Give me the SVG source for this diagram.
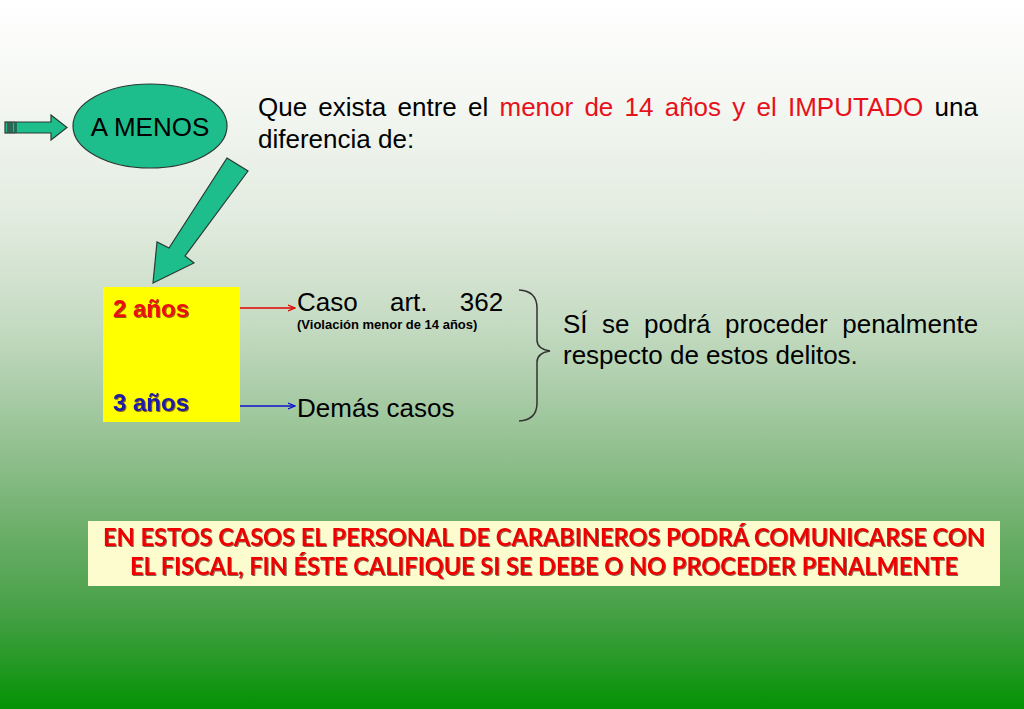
<svg xmlns="http://www.w3.org/2000/svg" width="1024" height="709" viewBox="0 0 1024 709">
<defs>
<linearGradient id="bg" x1="0" y1="0" x2="0" y2="1">
<stop offset="0" stop-color="#ffffff"/>
<stop offset="0.15" stop-color="#f3f6f1"/>
<stop offset="0.3" stop-color="#e3ece0"/>
<stop offset="0.45" stop-color="#c7dcc4"/>
<stop offset="0.55" stop-color="#abcda9"/>
<stop offset="0.65" stop-color="#8dbe8a"/>
<stop offset="0.75" stop-color="#6bae69"/>
<stop offset="0.85" stop-color="#4ba24b"/>
<stop offset="0.92" stop-color="#2c9a2c"/>
<stop offset="1" stop-color="#039303"/>
</linearGradient>
<filter id="sh" x="-5%" y="-30%" width="110%" height="160%">
<feDropShadow dx="1" dy="1" stdDeviation="0.5" flood-color="#3a0000" flood-opacity="0.6"/>
</filter>
<marker id="mr" viewBox="0 0 8 8" refX="7" refY="4" markerWidth="8" markerHeight="8" markerUnits="userSpaceOnUse" orient="auto">
<path d="M0,1 L7,4 L0,7" fill="none" stroke="#e00000" stroke-width="1.2"/>
</marker>
<marker id="mb" viewBox="0 0 8 8" refX="7" refY="4" markerWidth="8" markerHeight="8" markerUnits="userSpaceOnUse" orient="auto">
<path d="M0,1 L7,4 L0,7" fill="none" stroke="#1010d0" stroke-width="1.2"/>
</marker>
<style>
.t{font-family:"Liberation Sans",Arial,sans-serif;font-size:26px;fill:#000}
.red{fill:#e8101a}
.block{fill:#1ebe8c;stroke:#2a3a34;stroke-width:1.2}
.lbl{font-family:"Liberation Sans",Arial,sans-serif;font-size:24px;font-weight:bold}
.bot{font-family:Lato,"Liberation Sans",sans-serif;font-size:24px;font-weight:bold;fill:#ee0000}
</style>
</defs>
<rect x="0" y="0" width="1024" height="709" fill="url(#bg)"/>

<g id="connectors">
<g id="arrow-in">
<rect x="5" y="122" width="3" height="11" class="block"/>
<rect x="9" y="122" width="2" height="11" class="block"/>
<rect x="12" y="122" width="3" height="11" class="block"/>
<polygon points="16,122 51,122 51,115 67,127.5 51,140 51,133 16,133" class="block"/>
</g>
<polygon id="arrow-down" points="227,158 248,171 185,256 194,263 153,283 157,242 169,248" class="block"/>
<line id="arrow-2" x1="207" y1="308" x2="295" y2="308" stroke="#e00000" stroke-width="1.3" marker-end="url(#mr)"/>
<line id="arrow-3" x1="207" y1="406" x2="295" y2="406" stroke="#1010d0" stroke-width="1.3" marker-end="url(#mb)"/>
<path id="brace" d="M519,290 Q537,291 537,308 L537,340 Q537,349 550,351 Q537,353 537,362 L537,403 Q537,420 519,421" fill="none" stroke="#333" stroke-width="1.5"/>
</g>

<g id="a-menos">
<ellipse cx="150" cy="126" rx="77" ry="42" class="block"/>
<text x="150" y="136" text-anchor="middle" class="t">A MENOS</text>
</g>

<g id="condicion">
<text x="258" y="116" class="t" word-spacing="4">Que exista entre el <tspan class="red">menor de 14 años y el IMPUTADO</tspan> una</text>
<text x="258" y="148" class="t">diferencia de:</text>
</g>

<g id="anos">
<rect x="103" y="287" width="137" height="135" fill="#ffff00"/>
<text x="113" y="317" class="lbl" fill="#ee1010" filter="url(#sh)">2 años</text>
<text x="113" y="411" class="lbl" fill="#1a1aa8" filter="url(#sh)">3 años</text>
</g>

<g id="caso-362">
<text x="297" y="311" class="t" word-spacing="25">Caso art. 362</text>
<text x="297" y="329" font-family="'Liberation Sans',Arial,sans-serif" font-size="13" font-weight="bold">(Violación menor de 14 años)</text>
</g>

<g id="demas">
<text x="297" y="417" class="t">Demás casos</text>
</g>

<g id="conclusion">
<text x="563" y="333" class="t" word-spacing="7.3">SÍ se podrá proceder penalmente</text>
<text x="563" y="364" class="t">respecto de estos delitos.</text>
</g>

<g id="nota">
<rect x="88" y="521" width="912" height="65" fill="#fdfccf"/>
<text x="544" y="546" text-anchor="middle" class="bot" textLength="882" lengthAdjust="spacingAndGlyphs" filter="url(#sh)">EN ESTOS CASOS EL PERSONAL DE CARABINEROS PODRÁ COMUNICARSE CON</text>
<text x="544" y="575" text-anchor="middle" class="bot" textLength="828" lengthAdjust="spacingAndGlyphs" filter="url(#sh)">EL FISCAL, FIN ÉSTE CALIFIQUE SI SE DEBE O NO PROCEDER PENALMENTE</text>
</g>
</svg>
